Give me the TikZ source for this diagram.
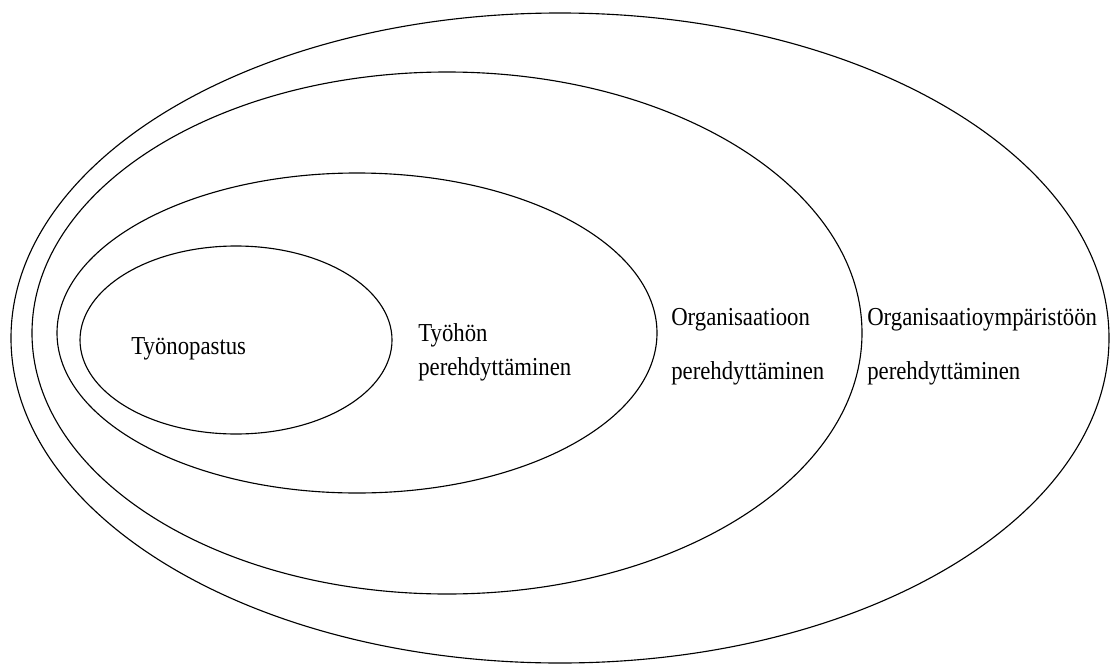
\documentclass[tikz,border=0pt]{standalone}
\usepackage{fontspec}
\setmainfont{Liberation Serif}[FakeStretch=0.88]
\usepackage{tikz}
\usetikzlibrary{positioning}

\begin{document}
\begin{tikzpicture}[
  x=0.025cm, y=-0.025cm,
  ring/.style={draw, line width=0.8pt},
  lbl/.style={anchor=base west, inner sep=0pt, font=\fontsize{18.4}{22}\selectfont}
]
\useasboundingbox (0,0) rectangle (1111,664);

% Levels, outermost first
\draw[ring] (560,338) ellipse [x radius=549, y radius=325];
\draw[ring] (447,333) ellipse [x radius=415, y radius=261];
\draw[ring] (357,333) ellipse [x radius=300, y radius=160];
\draw[ring] (236,340) ellipse [x radius=156, y radius=94];

% Labels
\node[lbl] (ohjaus) at (131,354) {Työnopastus};

\node[lbl] (tyoa) at (418,341) {Työhön};
\node[lbl] (tyob) at (418,375) {perehdyttäminen};

\node[lbl] (orga) at (671,325) {Organisaatioon};
\node[lbl] (orgb) at (671,379) {perehdyttäminen};

\node[lbl] (ympa) at (867,325) {Organisaatioympäristöön};
\node[lbl] (ympb) at (867,379) {perehdyttäminen};

\end{tikzpicture}
\end{document}
